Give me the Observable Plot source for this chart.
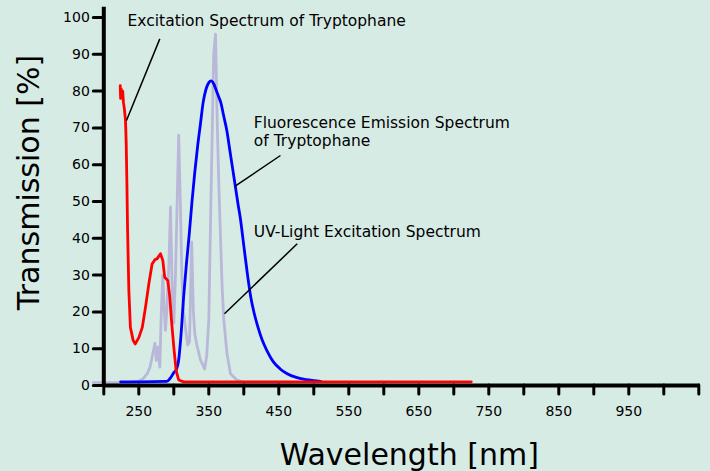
<!DOCTYPE html>
<html>
<head>
<meta charset="utf-8">
<script src="https://cdn.jsdelivr.net/npm/d3@7"></script>
<script src="https://cdn.jsdelivr.net/npm/@observablehq/plot@0.6"></script>
<style>
  html, body { margin: 0; padding: 0; background: #d7ebe5; }
</style>
</head>
<body>
<div id="chart"></div>
<script>
// UV-light excitation spectrum (lavender)
const uvNm  = [185, 200, 220, 240, 250, 256, 262, 266, 270, 273, 275, 277.5, 280, 282, 284.3, 286.5, 288, 290, 293, 295.3, 297.5, 300, 302.4, 304.8, 307, 309.5, 311.5, 314, 317, 320, 322.5, 325.5, 328, 330, 333, 338, 344, 347, 350, 353.4, 357, 359.6, 362, 364.4, 369, 371.4, 376, 381, 390, 400, 467];
const uvVal = [0.8, 0.8, 0.8, 0.9, 1.2, 1.8, 3.2, 5, 8.6, 11.5, 6.8, 10.5, 5, 19, 30, 20, 15, 20, 33, 48.5, 28, 17, 30, 50, 68, 48, 30, 20, 15, 11, 12, 39, 20, 14, 11, 7, 4.5, 8, 18, 54, 90, 95.5, 72, 54, 27, 18, 8.6, 3.2, 1.5, 0.9, 0.9];

// Fluorescence emission spectrum of tryptophane (blue)
const emNm  = [224, 250, 290, 295, 300, 304, 307, 310, 314, 318, 322, 326, 330, 334, 338, 342, 346, 350, 353.4, 357, 361, 364, 367, 371, 376, 380, 384, 388, 392, 395, 400, 405, 410, 415, 420, 426, 433, 442, 452, 462, 475, 490, 500, 510];
const emVal = [1, 1, 1.1, 2, 3.5, 4.5, 7, 13, 24, 33, 41, 50, 58, 65, 71, 77, 80.5, 82.3, 82.8, 82, 80, 78.5, 77, 73.5, 69, 64, 59, 54, 49, 45.5, 38, 30.5, 24, 19.5, 16, 12.5, 9.5, 6.5, 4.5, 3.2, 2.2, 1.6, 1.3, 1.1];

// Excitation spectrum of tryptophane (red)
const exNm  = [223.5, 224, 225, 226, 227, 228, 229.5, 231, 232, 233, 234, 235.8, 238, 242, 245, 250, 255, 259.6, 264.3, 269, 273, 276, 281, 284.3, 287, 291.5, 294.3, 296.7, 300, 303.4, 307, 314, 725];
const exVal = [81.5, 78, 80.5, 78.5, 80, 77, 75, 72, 66, 55, 42, 25.8, 15.8, 12.2, 11.3, 13, 15.8, 21.3, 27.6, 33, 34.2, 34.4, 35.8, 34, 29.4, 28.5, 24, 17.7, 10.4, 4, 1.5, 1, 1];

// Axis ticks
const xTicks = d3.range(200, 1051, 50);
const xTickLabels = [250, 350, 450, 550, 650, 750, 850, 950];
const yTicks = d3.range(0, 101, 10);

// Annotations: label text, label anchor (nm, %), pointer line ends (nm, %)
const annText = ["Excitation Spectrum of Tryptophane", "Fluorescence Emission Spectrum\nof Tryptophane", "UV-Light Excitation Spectrum"];
const annX    = [233.9, 414.3, 414.3];
const annY    = [97.8, 65.0, 40.3];
const ptrX1   = [280, 452.4, 476.3];
const ptrY1   = [94.2, 62.5, 38.5];
const ptrX2   = [232.4, 387.1, 372.4];
const ptrY2   = [72, 54.1, 19.5];

const uv = uvNm.map((nm, i) => ({nm, v: uvVal[i]}));
const em = emNm.map((nm, i) => ({nm, v: emVal[i]}));
const ex = exNm.map((nm, i) => ({nm, v: exVal[i]}));
const labels = annText.map((t, i) => ({t, x: annX[i], y: annY[i]}));
const pointers = ptrX1.map((x1, i) => ({x1, y1: ptrY1[i], x2: ptrX2[i], y2: ptrY2[i]}));

const chart = Plot.plot({
  width: 710,
  height: 471,
  marginLeft: 103.3,
  marginRight: 11.7,
  marginTop: 17,
  marginBottom: 86,
  x: {domain: [200, 1050]},
  y: {domain: [0, 100]},
  style: {background: "#d7ebe5", fontFamily: "DejaVu Sans", color: "black", overflow: "visible"},
  marks: [
    Plot.line(uv, {x: "nm", y: "v", stroke: "#b9b8d8", strokeWidth: 2.8, clip: false}),
    Plot.line(em, {x: "nm", y: "v", stroke: "#0000ff", strokeWidth: 2.8, curve: "monotone-x"}),
    Plot.line(ex, {x: "nm", y: "v", stroke: "#ff0000", strokeWidth: 2.8}),
    Plot.link(pointers, {x1: "x1", y1: "y1", x2: "x2", y2: "y2", stroke: "black", strokeWidth: 1.5}),
    Plot.text(labels, {x: "x", y: "y", text: "t", textAnchor: "start", lineAnchor: "bottom", lineHeight: 1.16, fontSize: 15.5, fill: "black"}),
    Plot.axisY({ticks: yTicks, tickSize: 10, tickPadding: 4, strokeWidth: 3, strokeLinecap: "round", fontSize: 14, label: null}),
    Plot.axisX({ticks: xTicks, tickSize: 9, strokeWidth: 3, strokeLinecap: "round", tickFormat: () => "", label: null}),
    Plot.axisX({ticks: xTickLabels, tickSize: 0, tickPadding: 21, fontSize: 14, label: null}),
    Plot.ruleY([0], {x1: 200, x2: 1052, strokeWidth: 4, stroke: "black"}),
    Plot.ruleX([200], {y1: 0, y2: 102.8, strokeWidth: 4, stroke: "black"}),
    Plot.text(["Wavelength [nm]"], {frameAnchor: "bottom", text: d => d, dx: 8, dy: 79, textAnchor: "middle", lineAnchor: "bottom", fontSize: 30, fill: "black"}),
    Plot.text(["Transmission [%]"], {frameAnchor: "left", text: d => d, dx: -65.3, dy: -19, rotate: -90, textAnchor: "middle", lineAnchor: "bottom", fontSize: 30, fill: "black"})
  ]
});
document.getElementById("chart").appendChild(chart);
</script>
</body>
</html>
